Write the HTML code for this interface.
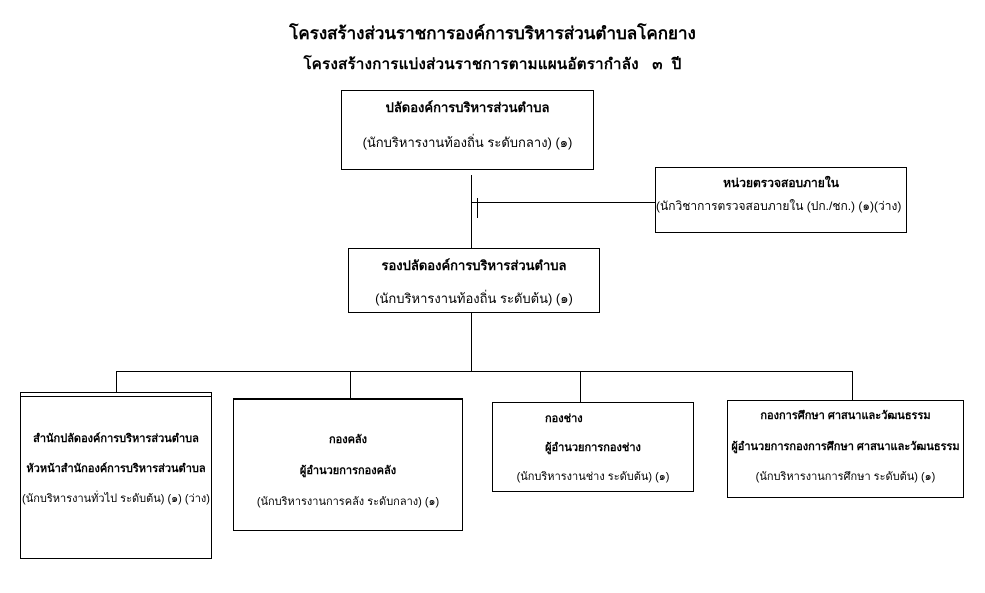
<!DOCTYPE html>
<html><head><meta charset="utf-8"><style>
body{margin:0;width:985px;height:593px;background:#fff;position:relative;font-family:"Liberation Sans","DejaVu Sans",sans-serif;color:#000;overflow:hidden}
.b{position:absolute;border:1px solid #000;box-sizing:border-box;text-align:center;font-size:12px}
.l{position:absolute;background:#000}
.t{position:absolute;left:0;width:985px;text-align:center;font-weight:bold}
p{margin:0}
</style></head><body>
<div class="t" style="top:20px;font-size:17px;">โครงสร้างส่วนราชการองค์การบริหารส่วนตำบลโคกยาง</div>
<div class="t" style="top:52px;font-size:15px;padding-left:0px;letter-spacing:0.3px">โครงสร้างการแบ่งส่วนราชการตามแผนอัตรากำลัง&nbsp;&nbsp; ๓ &nbsp;ปี</div>

<div class="b" style="left:341px;top:90px;width:253px;height:80px;font-size:13px"><p style="margin-top:6px;font-weight:bold">ปลัดองค์การบริหารส่วนตำบล</p><p style="margin-top:14px">(นักบริหารงานท้องถิ่น ระดับกลาง) (๑)</p></div>
<div class="l" style="left:471px;top:175px;width:1px;height:73px"></div>
<div class="l" style="left:472px;top:202px;width:183px;height:1px"></div>
<div class="l" style="left:477px;top:198px;width:1px;height:20px"></div>
<div class="b" style="left:655px;top:167px;width:252px;height:66px"><p style="margin-top:6px;font-weight:bold">หน่วยตรวจสอบภายใน</p><p style="margin-top:4px;text-align:left;white-space:nowrap">(นักวิชาการตรวจสอบภายใน (ปก./ชก.) (๑)(ว่าง)</p></div>
<div class="b" style="left:348px;top:248px;width:252px;height:65px;font-size:13px"><p style="margin-top:6px;font-weight:bold">รองปลัดองค์การบริหารส่วนตำบล</p><p style="margin-top:12px">(นักบริหารงานท้องถิ่น ระดับต้น) (๑)</p></div>
<div class="l" style="left:471px;top:313px;width:1px;height:58px"></div>
<div class="l" style="left:116px;top:371px;width:356px;height:1px"></div>
<div class="l" style="left:472px;top:371px;width:380px;height:1px"></div>
<div class="l" style="left:116px;top:371px;width:1px;height:21px"></div>
<div class="l" style="left:350px;top:371px;width:1px;height:27px"></div>
<div class="l" style="left:580px;top:371px;width:1px;height:31px"></div>
<div class="l" style="left:852px;top:371px;width:1px;height:29px"></div>

<div class="b" style="left:20px;top:392px;width:192px;height:167px;font-size:11px"><div style="border-top:1px solid #000;margin-top:3px"></div><p style="margin-top:32px;font-weight:bold">สำนักปลัดองค์การบริหารส่วนตำบล</p><p style="margin-top:12px;font-weight:bold">หัวหน้าสำนักองค์การบริหารส่วนตำบล</p><p style="margin-top:12px">(นักบริหารงานทั่วไป ระดับต้น) (๑) (ว่าง)</p></div>
<div class="b" style="left:233px;top:398px;width:230px;height:133px;font-size:11px;border-top:2px solid #000"><p style="margin-top:30px;font-weight:bold">กองคลัง</p><p style="margin-top:13px;font-weight:bold">ผู้อำนวยการกองคลัง</p><p style="margin-top:13px">(นักบริหารงานการคลัง ระดับกลาง) (๑)</p></div>
<div class="b" style="left:492px;top:402px;width:202px;height:90px;font-size:11px"><p style="margin-top:6px;font-weight:bold;text-align:left;padding-left:52px">กองช่าง</p><p style="margin-top:11px;font-weight:bold">ผู้อำนวยการกองช่าง</p><p style="margin-top:11px">(นักบริหารงานช่าง ระดับต้น) (๑)</p></div>
<div class="b" style="left:727px;top:400px;width:237px;height:98px;font-size:11px"><p style="margin-top:5px;font-weight:bold">กองการศึกษา ศาสนาและวัฒนธรรม</p><p style="margin-top:13px;font-weight:bold;white-space:nowrap">ผู้อำนวยการกองการศึกษา ศาสนาและวัฒนธรรม</p><p style="margin-top:12px">(นักบริหารงานการศึกษา ระดับต้น) (๑)</p></div>
</body></html>
